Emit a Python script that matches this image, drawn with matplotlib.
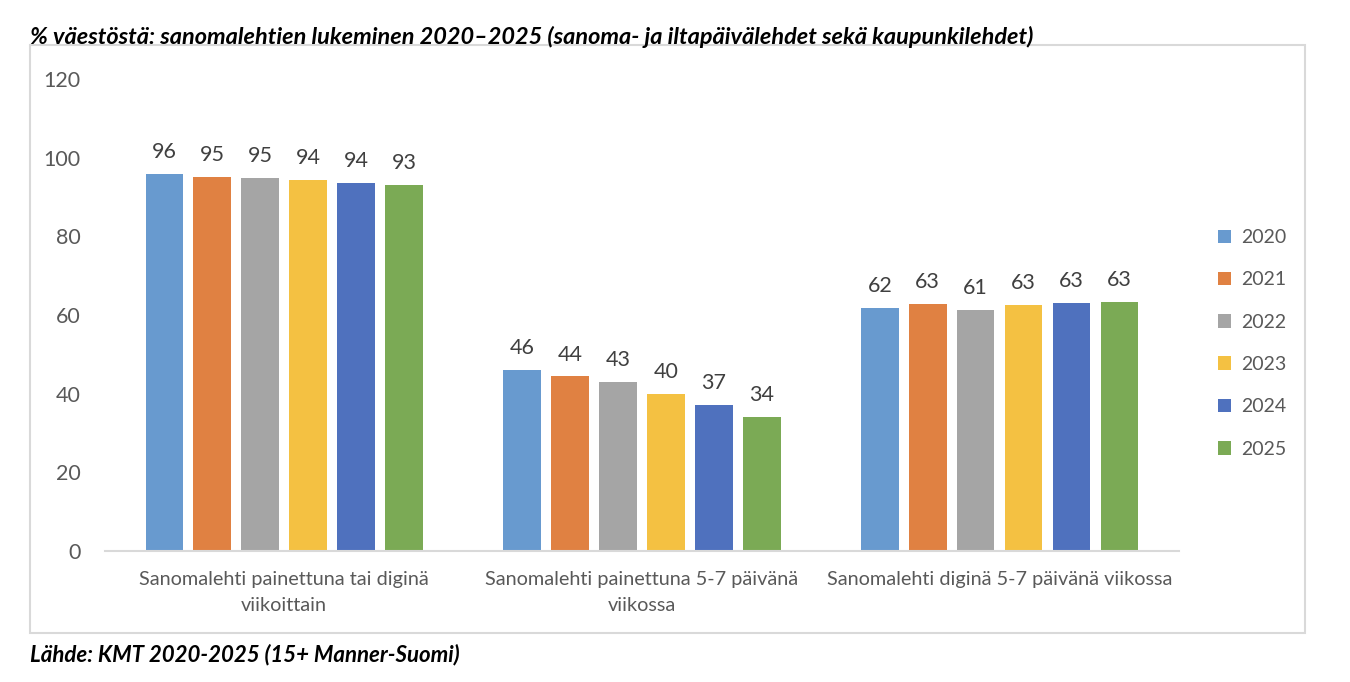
import numpy as np
import matplotlib.pyplot as plt
from matplotlib.patches import Rectangle

plt.rcParams['font.family'] = ['Lato', 'DejaVu Sans']

categories = ['Sanomalehti painettuna tai diginä\nviikoittain',
              'Sanomalehti painettuna 5-7 päivänä\nviikossa',
              'Sanomalehti diginä 5-7 päivänä viikossa']
years = ['2020', '2021', '2022', '2023', '2024', '2025']
values = {
    '2020': [95.9, 46.0, 61.8],
    '2021': [95.2, 44.4, 62.8],
    '2022': [94.9, 43.0, 61.3],
    '2023': [94.4, 39.9, 62.6],
    '2024': [93.6, 37.1, 63.1],
    '2025': [93.1, 34.1, 63.3],
}
colors = ['#689ACF', '#E08142', '#A5A5A5', '#F4C142', '#4F71BE', '#7BAA55']

title = '% väestöstä: sanomalehtien lukeminen 2020–2025 (sanoma- ja iltapäivälehdet sekä kaupunkilehdet)'
source = 'Lähde: KMT 2020-2025 (15+ Manner-Suomi)'

fig = plt.figure(figsize=(13.5, 6.82), dpi=100)
ax = fig.add_axes([0.078, 0.192, 0.795, 0.692])

x = np.arange(len(categories))
slot = 0.134
width = 0.105
for i, yr in enumerate(years):
    pos = x + (i - 2.5) * slot
    bars = ax.bar(pos, values[yr], width=width, color=colors[i], label=yr)
    for b, v in zip(bars, values[yr]):
        ax.text(b.get_x() + b.get_width() / 2, v + 3.0, '%.0f' % v,
                ha='center', va='bottom', fontsize=15.5, color='#404040')

ax.set_xlim(-0.5, 2.5)
ax.set_ylim(0, 120)
ax.set_yticks(range(0, 121, 20))
ax.set_xticks(x)
ax.set_xticklabels(categories, fontsize=14.3, color='#595959', linespacing=1.65)
ax.tick_params(axis='y', labelsize=15.5, colors='#595959', length=0, pad=18)
ax.tick_params(axis='x', length=0, pad=14)
for s in ['top', 'right', 'left']:
    ax.spines[s].set_visible(False)
ax.spines['bottom'].set_color('#D9D9D9')
ax.spines['bottom'].set_linewidth(1.5)

leg = ax.legend(loc='center left', bbox_to_anchor=(1.02, 0.44), frameon=False,
                fontsize=14, labelspacing=1.3, handlelength=0.7, handleheight=0.7,
                handletextpad=0.5)
for t in leg.get_texts():
    t.set_color('#595959')

fig.patches.append(Rectangle((30 / 1350, 1 - 633 / 682), 1275 / 1350, 588 / 682,
                             transform=fig.transFigure, fill=False,
                             edgecolor='#D9D9D9', linewidth=1.5))

fig.text(30 / 1350, 1 - 37 / 682, title, fontsize=16.9, fontweight='bold',
         fontstyle='italic', color='black', va='center', ha='left')
fig.text(30 / 1350, 1 - 655 / 682, source, fontsize=16, fontweight='bold',
         fontstyle='italic', color='black', va='center', ha='left')

fig.savefig('out.png', dpi=100)
